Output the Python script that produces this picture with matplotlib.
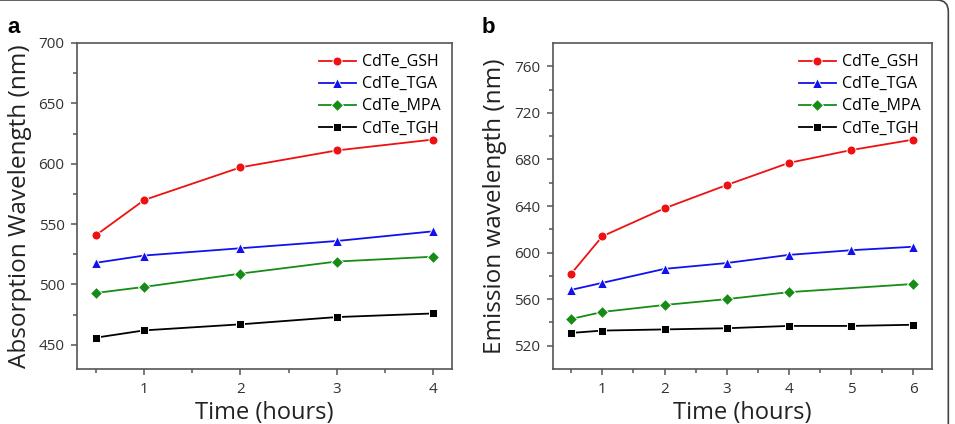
import matplotlib
matplotlib.use('Agg')
import matplotlib.pyplot as plt
from matplotlib.patches import FancyBboxPatch

# Données
series = ['CdTe_GSH', 'CdTe_TGA', 'CdTe_MPA', 'CdTe_TGH']

t_abs = [0.5, 1, 2, 3, 4]
abs_gsh = [541, 570, 597, 611, 620]
abs_tga = [518, 524, 530, 536, 544]
abs_mpa = [493, 498, 509, 519, 523]
abs_tgh = [456, 462, 467, 473, 476]

t_em = [0.5, 1, 2, 3, 4, 5, 6]
t_em_mpa = [0.5, 1, 2, 3, 4, 6]
em_gsh = [582, 614, 638, 658, 677, 688, 697]
em_tga = [568, 574, 586, 591, 598, 602, 605]
em_mpa = [543, 549, 555, 560, 566, 573]
em_tgh = [531, 533, 534, 535, 537, 537, 538]

couleurs = ['#ee1111', '#1111ee', '#168c16', '#000000']
marqueurs = ['o', '^', 'D', 's']
tailles = [6.5, 7.5, 6.5, 5.5]

plt.rcParams['font.family'] = ['Open Sans', 'DejaVu Sans']

fig = plt.figure(figsize=(9.55, 4.24), dpi=100)

# cadre arrondi autour de la figure
cadre = FancyBboxPatch((-0.05, -0.1), 1.043, 1.1, boxstyle='round,pad=0,rounding_size=0.012',
                       transform=fig.transFigure, facecolor='none', edgecolor='#444444',
                       linewidth=1.2, mutation_aspect=955 / 424)
fig.patches.append(cadre)

ax_a = fig.add_axes([0.0806, 0.1297, 0.3927, 0.7689])
ax_b = fig.add_axes([0.5787, 0.1297, 0.3969, 0.7689])

donnees_a = [(t_abs, abs_gsh), (t_abs, abs_tga), (t_abs, abs_mpa), (t_abs, abs_tgh)]
donnees_b = [(t_em, em_gsh), (t_em, em_tga), (t_em_mpa, em_mpa), (t_em, em_tgh)]

for ax, donnees in [(ax_a, donnees_a), (ax_b, donnees_b)]:
    for (x, y), nom, c, m, ms in zip(donnees, series, couleurs, marqueurs, tailles):
        ax.plot(x, y, color=c, marker=m, markersize=ms, linewidth=1.3, label=nom,
                markeredgecolor='white', markeredgewidth=0.7)
    for s in ax.spines.values():
        s.set_color('#555555')
        s.set_linewidth(1.2)
    ax.tick_params(which='both', direction='out', colors='#555555', labelcolor='#333333',
                   labelsize=11, top=False, right=False)
    ax.tick_params(which='major', length=4, width=1.1, pad=5)
    ax.tick_params(which='minor', length=3, width=1.1)
    leg = ax.legend(loc='upper right', frameon=False, fontsize=11.5, handlelength=2.3,
                    handletextpad=0.4, labelspacing=0.38, borderaxespad=0.3)
    ax.set_xlabel('Time (hours)', fontsize=17, color='#222222', labelpad=3)

ax_a.set_xlim(0.3, 4.2)
ax_a.set_ylim(430, 700)
ax_a.set_xticks([1, 2, 3, 4])
ax_a.set_xticks([0.5, 1.5, 2.5, 3.5], minor=True)
ax_a.set_yticks([450, 500, 550, 600, 650, 700])
ax_a.set_yticks([475, 525, 575, 625, 675], minor=True)
ax_a.set_ylabel('Absorption Wavelength (nm)', fontsize=17.5, color='#222222', labelpad=5)

ax_b.set_xlim(0.2, 6.3)
ax_b.set_ylim(500, 780)
ax_b.set_xticks([1, 2, 3, 4, 5, 6])
ax_b.set_xticks([0.5, 1.5, 2.5, 3.5, 4.5, 5.5], minor=True)
ax_b.set_yticks([520, 560, 600, 640, 680, 720, 760])
ax_b.set_yticks([540, 580, 620, 660, 700, 740], minor=True)
ax_b.set_ylabel('Emission wavelength (nm)', fontsize=17.5, color='#222222', labelpad=5)

fig.text(0.008, 0.922, 'a', fontsize=16, fontweight='bold', family=['Liberation Sans', 'DejaVu Sans'])
fig.text(0.504, 0.922, 'b', fontsize=16, fontweight='bold', family=['Liberation Sans', 'DejaVu Sans'])

fig.savefig('out.png', dpi=100)
